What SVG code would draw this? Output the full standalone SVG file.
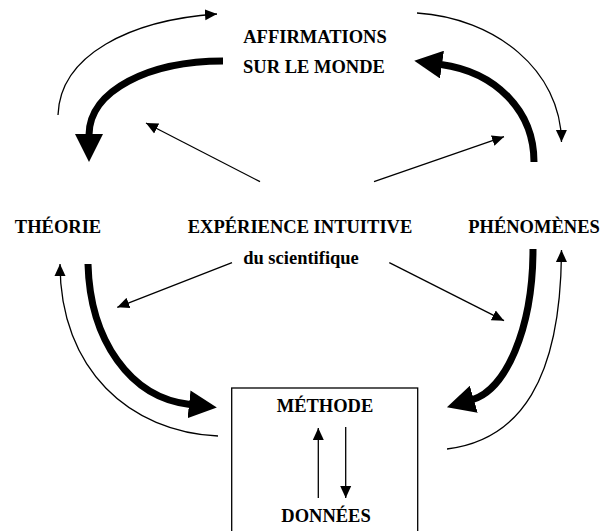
<svg xmlns="http://www.w3.org/2000/svg" width="602" height="531" viewBox="0 0 602 531">
<style>
text{font-family:"Liberation Serif","Times New Roman",serif;font-weight:bold;font-size:18.5px;fill:#000;text-anchor:middle}
.thin{fill:none;stroke:#000;stroke-width:1.3;marker-end:url(#ah)}
.thick{fill:none;stroke:#000;stroke-width:7;marker-end:url(#AH)}
</style>
<defs>
<marker id="ah" viewBox="0 0 12 12" refX="12" refY="6" markerWidth="12" markerHeight="12" markerUnits="userSpaceOnUse" orient="auto"><path d="M0,0.5 L12,6 L0,11.5 z" fill="#000"/></marker>
<marker id="AH" viewBox="0 0 28 28" refX="1" refY="14" markerWidth="28" markerHeight="28" markerUnits="userSpaceOnUse" orient="auto"><path d="M0,0 L28,14 L0,28 z" fill="#000"/></marker>
</defs>
<g id="affirmations"><text x="315" y="43">AFFIRMATIONS</text><text x="314" y="73">SUR LE MONDE</text></g>
<g id="theorie"><text x="58" y="233">THÉORIE</text></g>
<g id="experience"><text x="300" y="233">EXPÉRIENCE INTUITIVE</text><text x="301" y="264">du scientifique</text></g>
<g id="phenomenes"><text x="534" y="233">PHÉNOMÈNES</text></g>
<g id="methode">
<rect x="231.7" y="388" width="186" height="160" fill="none" stroke="#000" stroke-width="1.3"/>
<text x="325" y="412">MÉTHODE</text><text x="326" y="522">DONNÉES</text>
<path class="thin" d="M318.3,498 L318.3,428"/>
<path class="thin" d="M345.7,427 L345.7,498"/>
</g>
<g id="connectors">
<path class="thick" d="M223,61 C150,61 89,90 89,135"/>
<path class="thick" d="M534,162 C534,110 495,72 441,64.5"/>
<path class="thick" d="M88,264 C90,340 130,398 190,404.5"/>
<path class="thick" d="M533,249 C533,330 505,390 472.8,399.5"/>
<path class="thin" d="M58,115 C60,55 130,20 217,14"/>
<path class="thin" d="M417,13 C495,18 561,70 561.5,142"/>
<path class="thin" d="M218,436 C130,432 60,370 60,264"/>
<path class="thin" d="M447,449 C520,440 561,380 561.5,250"/>
<path class="thin" d="M260,181.7 L146,123"/>
<path class="thin" d="M374,181.7 L504,136.7"/>
<path class="thin" d="M232,262.7 L117.3,307.3"/>
<path class="thin" d="M389.3,262.7 L504,320.7"/>
</g>
</svg>
